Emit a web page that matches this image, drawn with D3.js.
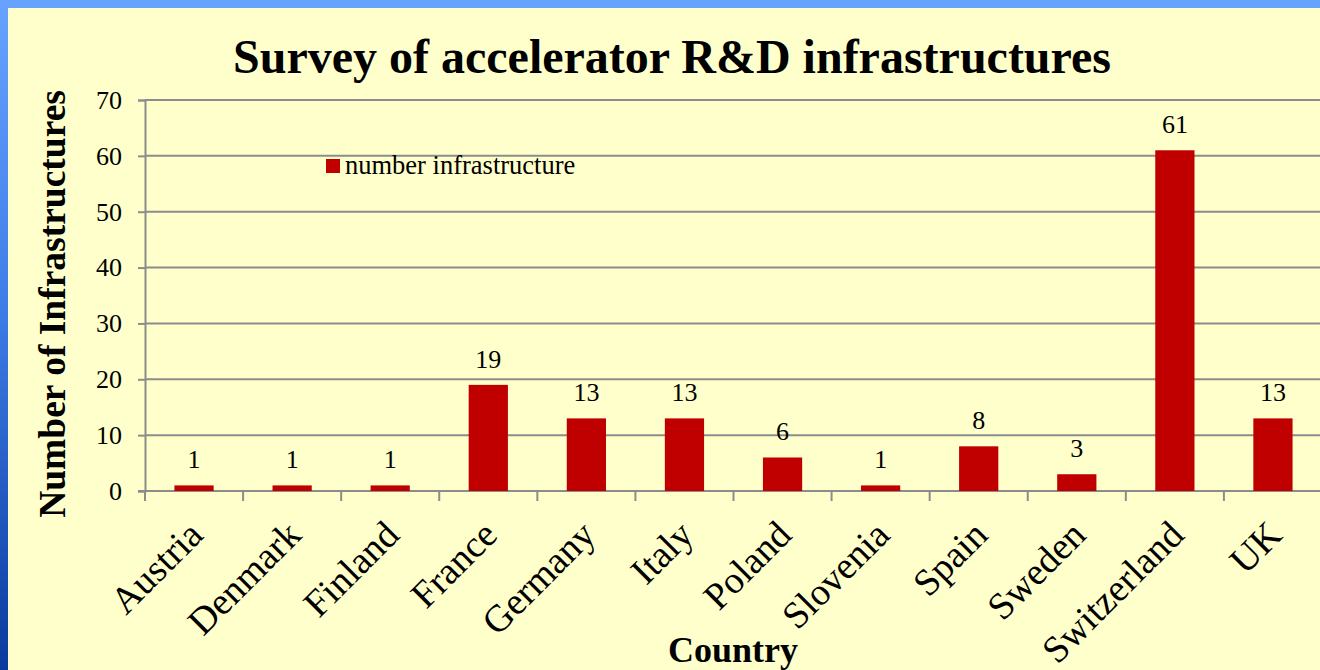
<!DOCTYPE html>
<html>
<head>
<meta charset="utf-8">
<script src="https://cdn.jsdelivr.net/npm/d3@7"></script>
<style>
  html, body { margin: 0; padding: 0; background: #ffffcc; }
  svg { display: block; }
  text { font-family: "Liberation Serif", "Times New Roman", serif; fill: #000; }
</style>
</head>
<body>
<svg id="chart" width="1320" height="670"></svg>
<script>
const countries = ["Austria", "Denmark", "Finland", "France", "Germany", "Italy", "Poland", "Slovenia", "Spain", "Sweden", "Switzerland", "UK"];
const infrastructures = [1, 1, 1, 19, 13, 13, 6, 1, 8, 3, 61, 13];
const yTicks = [0, 10, 20, 30, 40, 50, 60, 70];
const seriesName = "number infrastructure";
const chartTitle = "Survey of accelerator R&D infrastructures";
const xTitle = "Country";
const yTitle = "Number of Infrastructures";

const W = 1320, H = 670;
const svg = d3.select("#chart");

// frame
const defs = svg.append("defs");
const lg = defs.append("linearGradient").attr("id", "leftBlue").attr("x1", 0).attr("y1", 0).attr("x2", 0).attr("y2", 1);
lg.append("stop").attr("offset", "0%").attr("stop-color", "#68a2ff");
lg.append("stop").attr("offset", "45%").attr("stop-color", "#3f7ee8");
lg.append("stop").attr("offset", "100%").attr("stop-color", "#0a3a9e");
svg.append("rect").attr("x", 0).attr("y", 0).attr("width", W).attr("height", 8).attr("fill", "#68a2ff");
svg.append("rect").attr("x", 0).attr("y", 0).attr("width", 8).attr("height", H).attr("fill", "url(#leftBlue)");
svg.append("rect").attr("x", 8).attr("y", 8).attr("width", W - 8).attr("height", H - 8).attr("fill", "#ffffcc");

const m = { left: 145, right: 1322, top: 100, bottom: 491 };
const x = d3.scaleBand().domain(countries).range([m.left, m.right]).paddingInner(0).paddingOuter(0);
const y = d3.scaleLinear().domain([0, 70]).range([m.bottom, m.top]);

const gridColor = "#8c8c8c";

// gridlines + y ticks
const yAxis = d3.axisLeft(y).tickValues(yTicks).tickSize(7).tickPadding(16).tickFormat(d3.format("d"));
const gy = svg.append("g").attr("transform", `translate(${m.left},0)`).call(yAxis);
gy.select(".domain").attr("stroke", gridColor).attr("stroke-width", 2);
gy.selectAll(".tick line").attr("stroke", gridColor).attr("stroke-width", 2);
gy.selectAll(".tick text").attr("font-size", 26).attr("font-family", "Liberation Serif, serif").attr("fill", "#000");

svg.append("g").selectAll("line").data(yTicks.filter(d => d > 0)).join("line")
  .attr("x1", m.left).attr("x2", W).attr("y1", d => y(d)).attr("y2", d => y(d))
  .attr("stroke", gridColor).attr("stroke-width", 2);

// x axis with boundary ticks
const xb = svg.append("g");
xb.append("line").attr("x1", m.left - 7).attr("x2", W).attr("y1", y(0)).attr("y2", y(0))
  .attr("stroke", gridColor).attr("stroke-width", 2);
const bounds = countries.map(c => x(c)).concat([x(countries[countries.length - 1]) + x.bandwidth()]);
xb.selectAll("line.tk").data(bounds).join("line").attr("class", "tk")
  .attr("x1", d => d).attr("x2", d => d).attr("y1", y(0)).attr("y2", y(0) + 10)
  .attr("stroke", gridColor).attr("stroke-width", 2);

// bars
const bw = x.bandwidth() * 0.4;
svg.append("g").selectAll("rect").data(countries).join("rect")
  .attr("x", (c) => x(c) + (x.bandwidth() - bw) / 2)
  .attr("width", bw)
  .attr("y", (c, i) => y(infrastructures[i]))
  .attr("height", (c, i) => y(0) - y(infrastructures[i]))
  .attr("fill", "#c00000");

// data labels
svg.append("g").selectAll("text").data(countries).join("text")
  .attr("x", c => x(c) + x.bandwidth() / 2)
  .attr("y", (c, i) => y(infrastructures[i]) - 17)
  .attr("text-anchor", "middle").attr("font-size", 26)
  .text((c, i) => infrastructures[i]);

// x tick labels
svg.append("g").selectAll("text").data(countries).join("text")
  .attr("transform", c => `translate(${x(c) + x.bandwidth() / 2 + 11},537) rotate(-45)`)
  .attr("text-anchor", "end").attr("font-size", 38)
  .text(c => c);

// legend
svg.append("rect").attr("x", 326).attr("y", 159).attr("width", 14).attr("height", 14).attr("fill", "#c00000");
svg.append("text").attr("x", 345).attr("y", 174).attr("font-size", 26.5).text(seriesName);

// titles
svg.append("text").attr("x", 672).attr("y", 73).attr("text-anchor", "middle")
  .attr("font-size", 48).attr("font-weight", "bold").text(chartTitle);
svg.append("text").attr("x", 733).attr("y", 662).attr("text-anchor", "middle")
  .attr("font-size", 36).attr("font-weight", "bold").text(xTitle);
svg.append("text").attr("transform", "translate(65,304) rotate(-90)").attr("text-anchor", "middle")
  .attr("font-size", 37.5).attr("font-weight", "bold").text(yTitle);
</script>
</body>
</html>
